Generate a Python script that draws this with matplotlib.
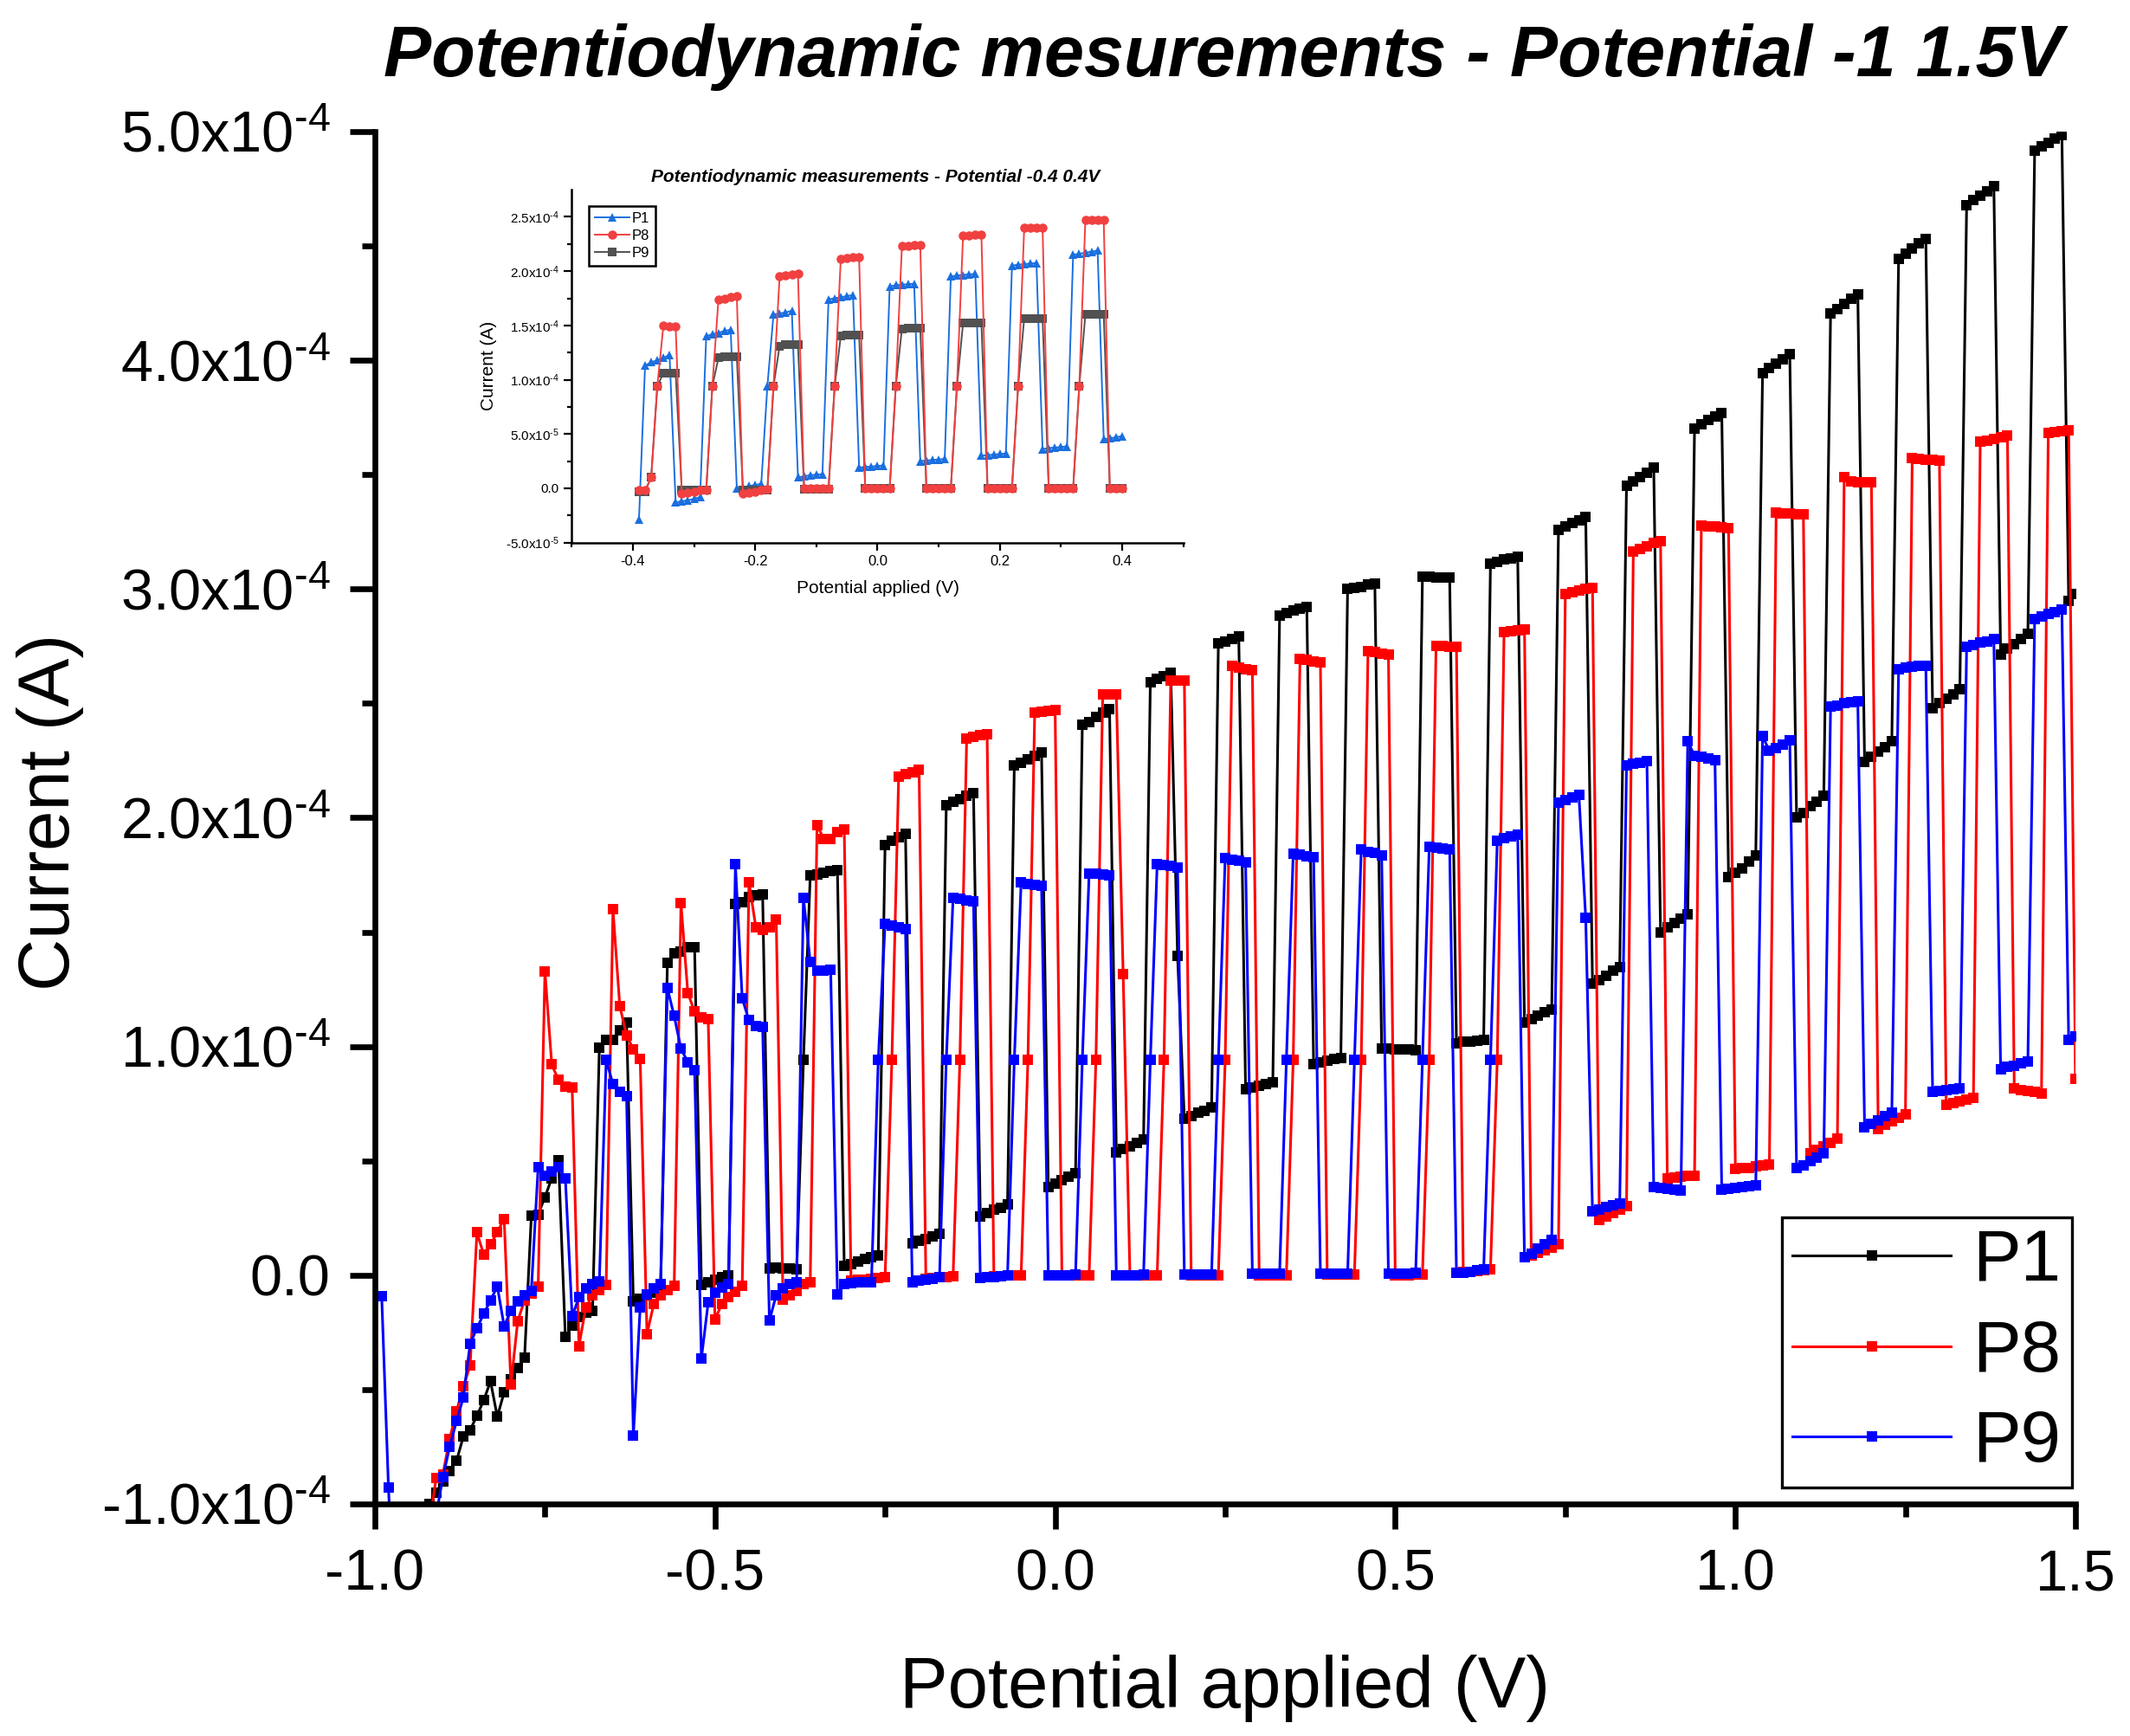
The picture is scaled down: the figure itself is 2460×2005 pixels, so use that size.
import numpy as np
import matplotlib
matplotlib.use("Agg")
import matplotlib.pyplot as plt

nan = np.nan

plt.rcParams["font.family"] = ["Liberation Sans", "DejaVu Sans"]
plt.rcParams["mathtext.fontset"] = "custom"
plt.rcParams["mathtext.rm"] = "Liberation Sans"
plt.rcParams["mathtext.default"] = "regular"
plt.rcParams["axes.unicode_minus"] = False


# ------------------------------------------------------------------
# Data - main sweep, -1.00 V .. 1.50 V in 0.01 V steps
# currents are in units of 1e-4 A, one row per 0.1 V
# ------------------------------------------------------------------

V_START, V_STEP, N_POINTS = -1.00, 0.01, 251

p1_current = [
    nan, nan, nan, nan, nan, nan, nan, -1.10, -1.00, -0.95,
    -0.90, -0.856, -0.812, -0.706, -0.677, -0.615, -0.547, -0.464, -0.619, -0.512,
    -0.455, -0.406, -0.362, 0.260, 0.266, 0.341, 0.424, 0.502, -0.271, -0.22,
    -0.184, -0.164, -0.155, 0.994, 1.027, 1.029, 1.071, 1.106, -0.116, -0.103,
    -0.087, -0.078, -0.068, 1.365, 1.407, 1.415, 1.434, 1.434, -0.043, -0.033,
    -0.02, -0.01, 0.0, 1.622, 1.631, 1.655, 1.66, 1.666, 0.03, 0.035,
    0.03, 0.028, 0.025, 0.94, 1.747, 1.751, 1.761, 1.767, 1.77, 0.04,
    0.05, 0.06, 0.07, 0.08, 0.085, 1.88, 1.90, 1.915, 1.93, 0.14,
    0.15, 0.16, 0.17, 0.18, 2.054, 2.07, 2.08, 2.095, 2.109, 0.258,
    0.27, 0.285, 0.295, 0.308, 2.228, 2.24, 2.255, 2.27, 2.287, 0.387,
    0.40, 0.415, 0.43, 0.447, 2.406, 2.42, 2.44, 2.46, 2.475, 0.536,
    0.55, 0.565, 0.58, 0.595, 2.594, 2.607, 2.62, 2.634, 1.397, 0.684,
    0.695, 0.71, 0.72, 0.733, 2.762, 2.772, 2.782, 2.792, 0.812, 0.82,
    0.827, 0.835, 0.842, 2.885, 2.895, 2.905, 2.913, 2.921, 0.922, 0.93,
    0.937, 0.944, 0.951, 3.00, 3.005, 3.01, 3.02, 3.025, 0.99, 0.99,
    0.988, 0.987, 0.986, 0.985, 3.055, 3.055, 3.052, 3.05, 3.05, 1.015,
    1.02, 1.02, 1.025, 1.03, 3.11, 3.12, 3.13, 3.135, 3.14, 1.104,
    1.12, 1.135, 1.15, 1.16, 3.26, 3.275, 3.29, 3.30, 3.315, 1.276,
    1.29, 1.31, 1.33, 1.346, 3.453, 3.47, 3.49, 3.51, 3.532, 1.498,
    1.52, 1.54, 1.56, 1.577, 3.70, 3.72, 3.74, 3.755, 3.77, 1.74,
    1.76, 1.78, 1.81, 1.836, 3.944, 3.965, 3.985, 4.005, 4.028, 2.0,
    2.02, 2.05, 2.07, 2.096, 4.204, 4.225, 4.245, 4.27, 4.289, 2.243,
    2.265, 2.29, 2.31, 2.334, 4.442, 4.465, 4.49, 4.51, 4.53, 2.477,
    2.50, 2.52, 2.54, 2.562, 4.677, 4.70, 4.72, 4.74, 4.762, 2.715,
    2.74, 2.76, 2.78, 2.803, 4.915, 4.935, 4.95, 4.97, 4.986, 2.95,
    2.98,
]

p8_current = [
    nan, nan, nan, nan, nan, nan, nan, nan, -1.10, -0.885,
    -0.87, -0.715, -0.595, -0.487, -0.396, 0.187, 0.09, 0.135, 0.187, 0.247,
    -0.479, -0.20, -0.11, -0.08, -0.05, 1.329, 0.921, 0.853, 0.826, 0.82,
    -0.31, -0.141, -0.088, -0.064, -0.043, 1.599, 1.178, 1.048, 0.988, 0.946,
    -0.257, -0.126, -0.088, -0.064, -0.045, 1.626, 1.235, 1.152, 1.129, 1.12,
    -0.194, -0.126, -0.097, -0.072, -0.045, 1.718, 1.521, 1.51, 1.521, 1.554,
    -0.107, -0.088, -0.068, -0.04, -0.03, 1.969, 1.906, 1.906, 1.937, 1.95,
    -0.025, -0.02, -0.02, -0.015, -0.012, -0.01, 0.94, 2.18, 2.19, 2.20,
    2.21, -0.015, -0.012, -0.01, -0.008, -0.006, 0.94, 2.347, 2.353, 2.36,
    2.367, -0.004, -0.003, -0.002, -0.001, 0.0, 0.94, 2.46, 2.463, 2.467,
    2.47, 0.0, 0.0, 0.0, 0.0, 0.0, 0.94, 2.54, 2.54, 2.54,
    1.317, 0.0, 0.0, 0.0, 0.0, 0.0, 0.94, 2.598, 2.598, 2.598,
    0.0, 0.0, 0.0, 0.0, 0.0, 0.94, 2.664, 2.657, 2.65, 2.644,
    0.0, 0.0, 0.001, 0.001, 0.001, 0.94, 2.693, 2.689, 2.685, 2.68,
    0.002, 0.002, 0.002, 0.002, 0.002, 0.94, 2.729, 2.723, 2.718, 2.712,
    0.0, 0.0, 0.001, 0.002, 0.003, 0.94, 2.753, 2.751, 2.748, 2.746,
    0.013, 0.016, 0.019, 0.022, 0.025, 0.94, 2.813, 2.817, 2.821, 2.825,
    0.086, 0.098, 0.11, 0.122, 0.134, 2.977, 2.985, 2.992, 3.0, 3.006,
    0.243, 0.258, 0.273, 0.288, 0.303, 3.163, 3.175, 3.187, 3.2, 3.211,
    0.424, 0.427, 0.43, 0.433, 0.436, 3.276, 3.274, 3.272, 3.27, 3.267,
    0.465, 0.467, 0.47, 0.475, 0.48, 0.483, 3.334, 3.332, 3.33, 3.327,
    3.325, 0.532, 0.548, 0.565, 0.58, 0.597, 3.488, 3.47, 3.468, 3.466,
    3.465, 0.64, 0.656, 0.672, 0.689, 0.705, 3.572, 3.57, 3.567, 3.565,
    3.562, 0.744, 0.752, 0.76, 0.768, 0.777, 3.644, 3.65, 3.657, 3.663,
    3.67, 0.816, 0.81, 0.805, 0.80, 0.793, 3.683, 3.687, 3.69, 3.693,
    0.86,
]

p9_current = [
    nan, -0.09, -0.93, -1.60, nan, nan, nan, nan, nan, -1.05,
    -0.883, -0.75, -0.638, -0.535, -0.30, -0.232, -0.169, -0.11, -0.049, -0.223,
    -0.155, -0.116, -0.087, -0.068, 0.473, 0.434, 0.453, 0.473, 0.424, -0.18,
    -0.097, -0.059, -0.04, -0.026, 0.94, 0.836, 0.80, 0.782, -0.702, -0.141,
    -0.083, -0.058, -0.04, 1.255, 1.133, 0.99, 0.932, 0.897, -0.364, -0.12,
    -0.078, -0.052, -0.04, 1.796, 1.21, 1.114, 1.09, 1.085, -0.198, -0.087,
    -0.058, -0.04, -0.03, 1.65, 1.37, 1.332, 1.332, 1.336, -0.083, -0.04,
    -0.035, -0.032, -0.03, -0.03, 0.94, 1.535, 1.53, 1.52, 1.515, -0.03,
    -0.025, -0.02, -0.015, -0.01, 0.94, 1.65, 1.645, 1.64, 1.634, -0.012,
    -0.01, -0.007, -0.004, -0.002, 0.94, 1.717, 1.712, 1.708, 1.703, 0.0,
    0.0, 0.001, 0.001, 0.002, 0.94, 1.757, 1.755, 1.752, 1.749, 0.001,
    0.001, 0.001, 0.001, 0.002, 0.94, 1.797, 1.792, 1.788, 1.783, 0.002,
    0.002, 0.003, 0.003, 0.004, 0.94, 1.822, 1.817, 1.811, 1.806, 0.005,
    0.005, 0.006, 0.006, 0.006, 0.94, 1.842, 1.838, 1.833, 1.828, 0.007,
    0.007, 0.007, 0.007, 0.007, 0.94, 1.86, 1.852, 1.845, 1.835, 0.005,
    0.006, 0.007, 0.008, 0.01, 0.94, 1.872, 1.868, 1.864, 1.86, 0.01,
    0.012, 0.016, 0.02, 0.025, 0.94, 1.90, 1.91, 1.918, 1.925, 0.078,
    0.095, 0.115, 0.135, 0.153, 2.065, 2.077, 2.09, 2.10, 1.563, 0.279,
    0.288, 0.297, 0.306, 0.315, 2.229, 2.235, 2.24, 2.246, 0.387, 0.382,
    0.378, 0.374, 0.37, 2.335, 2.27, 2.265, 2.26, 2.253, 0.375, 0.378,
    0.382, 0.387, 0.39, 0.392, 2.357, 2.292, 2.305, 2.32, 2.34, 0.467,
    0.48, 0.50, 0.515, 0.532, 2.487, 2.49, 2.50, 2.505, 2.51, 0.646,
    0.66, 0.675, 0.695, 0.711, 2.65, 2.655, 2.66, 2.663, 2.666, 0.803,
    0.806, 0.81, 0.813, 0.816, 2.748, 2.755, 2.765, 2.772, 2.78, 0.90,
    0.91, 0.917, 0.925, 0.933, 2.868, 2.88, 2.89, 2.90, 2.911, 1.03,
    1.044,
]

# ------------------------------------------------------------------
# Data - inset sweep, -0.39 V .. 0.40 V in 0.01 V steps (1e-4 A)
# ------------------------------------------------------------------

INSET_START, INSET_POINTS = -0.39, 80

inset_p1 = [
    -0.29, 1.13, 1.16, 1.18, 1.20, 1.23, -0.13, -0.12, -0.11, -0.10,
    -0.08, 1.40, 1.42, 1.43, 1.45, 1.46, 0.0, 0.01, 0.02, 0.03,
    0.04, 0.94, 1.60, 1.61, 1.62, 1.635, 0.10, 0.11, 0.12, 0.125,
    0.13, 1.74, 1.75, 1.76, 1.77, 1.78, 0.19, 0.195, 0.20, 0.205,
    0.21, 1.86, 1.87, 1.875, 1.88, 1.885, 0.25, 0.255, 0.26, 0.265,
    0.27, 1.95, 1.96, 1.965, 1.97, 1.975, 0.30, 0.305, 0.31, 0.315,
    0.32, 2.05, 2.06, 2.065, 2.07, 2.075, 0.36, 0.37, 0.375, 0.38,
    0.385, 2.15, 2.16, 2.17, 2.18, 2.19, 0.45, 0.46, 0.47, 0.48,
]

inset_p8 = [
    -0.02, -0.02, 0.10, 0.94, 1.50, 1.49, 1.49, -0.05, -0.04, -0.03,
    -0.02, -0.02, 0.94, 1.74, 1.75, 1.76, 1.77, -0.05, -0.04, -0.03,
    -0.02, -0.01, 0.94, 1.95, 1.96, 1.97, 1.98, 0.0, 0.0, 0.0,
    0.0, 0.0, 0.94, 2.11, 2.12, 2.125, 2.13, 0.0, 0.0, 0.0,
    0.0, 0.0, 0.94, 2.23, 2.235, 2.237, 2.24, 0.0, 0.0, 0.0,
    0.0, 0.0, 0.94, 2.33, 2.332, 2.333, 2.335, 0.0, 0.0, 0.0,
    0.0, 0.0, 0.94, 2.40, 2.40, 2.40, 2.40, 0.0, 0.0, 0.0,
    0.0, 0.0, 0.94, 2.47, 2.47, 2.47, 2.47, 0.0, 0.0, 0.0,
]

inset_p9 = [
    -0.03, -0.03, 0.10, 0.94, 1.06, 1.06, 1.06, -0.02, -0.02, -0.02,
    -0.02, -0.02, 0.94, 1.20, 1.21, 1.21, 1.21, -0.02, -0.02, -0.02,
    -0.02, -0.02, 0.94, 1.31, 1.32, 1.32, 1.32, -0.01, -0.01, -0.01,
    -0.01, -0.01, 0.94, 1.40, 1.41, 1.41, 1.41, 0.0, 0.0, 0.0,
    0.0, 0.0, 0.94, 1.47, 1.475, 1.475, 1.475, 0.0, 0.0, 0.0,
    0.0, 0.0, 0.94, 1.52, 1.52, 1.52, 1.52, 0.0, 0.0, 0.0,
    0.0, 0.0, 0.94, 1.565, 1.566, 1.566, 1.566, 0.0, 0.0, 0.0,
    0.0, 0.0, 0.94, 1.60, 1.60, 1.60, 1.60, 0.0, 0.0, 0.0,
]

# tick labels (exponent uses a real hyphen, as in the original)
main_yticks = [-1e-4, 0.0, 1e-4, 2e-4, 3e-4, 4e-4, 5e-4]
main_yticklabels = ["-1.0x10$^{\u20104}$", "0.0", "1.0x10$^{\u20104}$",
                    "2.0x10$^{\u20104}$", "3.0x10$^{\u20104}$",
                    "4.0x10$^{\u20104}$", "5.0x10$^{\u20104}$"]
main_xticks = [-1.0, -0.5, 0.0, 0.5, 1.0, 1.5]
main_xticklabels = ["-1.0", "-0.5", "0.0", "0.5", "1.0", "1.5"]

inset_yticks = [-5e-5, 0.0, 5e-5, 1e-4, 1.5e-4, 2e-4, 2.5e-4]
inset_yticklabels = ["-5.0x10$^{\u20105}$", "0.0", "5.0x10$^{\u20105}$",
                     "1.0x10$^{\u20104}$", "1.5x10$^{\u20104}$",
                     "2.0x10$^{\u20104}$", "2.5x10$^{\u20104}$"]
inset_xticks = [-0.4, -0.2, 0.0, 0.2, 0.4]
inset_xticklabels = ["-0.4", "-0.2", "0.0", "0.2", "0.4"]

assert len(p1_current) == len(p8_current) == len(p9_current) == N_POINTS
assert len(inset_p1) == len(inset_p8) == len(inset_p9) == INSET_POINTS

potential = np.round(V_START + V_STEP * np.arange(N_POINTS), 2)
inset_potential = np.round(INSET_START + V_STEP * np.arange(INSET_POINTS), 2)


# ------------------------------------------------------------------
# Main plot
# ------------------------------------------------------------------

fig = plt.figure(figsize=(12.3, 10.025), dpi=200)
ax = fig.add_axes([0.1760, 0.1337, 0.7984, 0.7905])

series = [
    ("P1", p1_current, "#000000"),
    ("P8", p8_current, "#FF0000"),
    ("P9", p9_current, "#0000FF"),
]
for name, values, color in series:
    ax.plot(potential, np.array(values) * 1e-4, color=color, lw=1.1,
            marker="s", markersize=4.2, markeredgewidth=0, label=name)

ax.set_xlim(-1.0, 1.5)
ax.set_ylim(-1e-4, 5e-4)
ax.set_xticks(main_xticks, labels=main_xticklabels)
ax.set_xticks([-0.75, -0.25, 0.25, 0.75, 1.25], minor=True)
ax.set_yticks(main_yticks, labels=main_yticklabels)
ax.set_yticks([-0.5e-4, 0.5e-4, 1.5e-4, 2.5e-4, 3.5e-4, 4.5e-4], minor=True)

for side in ("top", "right"):
    ax.spines[side].set_visible(False)
for side in ("left", "bottom"):
    ax.spines[side].set_linewidth(2.4)

ax.tick_params(which="major", direction="out", length=10.5, width=2.4,
               labelsize=24, pad=8)
ax.tick_params(which="minor", direction="out", length=5.5, width=2.4)

leg = ax.legend(loc="lower right", bbox_to_anchor=(0.998, 0.012),
                fontsize=30, frameon=True, fancybox=False, framealpha=1,
                edgecolor="black", numpoints=1, handlelength=2.2,
                handletextpad=0.3, labelspacing=0.32, borderpad=0.15,
                borderaxespad=0)
leg.get_frame().set_linewidth(1.2)

fig.text(0.5744, 0.9561, "Potentiodynamic mesurements - Potential -1 1.5V",
         fontsize=29.8, fontweight="bold", fontstyle="italic",
         ha="center", va="baseline")
fig.text(0.5752, 0.0165, "Potential applied (V)", fontsize=30,
         ha="center", va="baseline")
fig.text(0.0236, 0.532, "Current (A)", fontsize=30, rotation=90,
         ha="center", va="center")


# ------------------------------------------------------------------
# Inset
# ------------------------------------------------------------------

ins = fig.add_axes([0.2684, 0.6875, 0.2871, 0.2032])

inset_series = [
    ("P1", inset_p1, "#1A6FDF", "^", 3.8, 3),
    ("P9", inset_p9, "#515151", "s", 3.6, 4),
    ("P8", inset_p8, "#F14040", "o", 3.8, 5),
]
handles = {}
for name, values, color, marker, size, z in inset_series:
    line, = ins.plot(inset_potential, np.array(values) * 1e-4, color=color,
                     lw=0.7, marker=marker, markersize=size,
                     markeredgewidth=0, zorder=z, label=name)
    handles[name] = line

ins.set_xlim(-0.5, 0.5)
ins.set_ylim(-0.5e-4, 2.75e-4)
ins.set_xticks(inset_xticks, labels=inset_xticklabels)
ins.set_xticks([-0.5, -0.3, -0.1, 0.1, 0.3, 0.5], minor=True)
ins.set_yticks(inset_yticks, labels=inset_yticklabels)
ins.set_yticks([-2.5e-5, 2.5e-5, 7.5e-5, 1.25e-4, 1.75e-4, 2.25e-4], minor=True)

for side in ("top", "right"):
    ins.spines[side].set_visible(False)
for side in ("left", "bottom"):
    ins.spines[side].set_linewidth(0.9)

ins.tick_params(which="major", direction="out", length=3.2, width=0.8,
                labelsize=5.5, pad=2)
ins.tick_params(which="minor", direction="out", length=1.8, width=0.8)
ins.tick_params(axis="x", labelsize=6)

ileg = ins.legend([handles["P1"], handles["P8"], handles["P9"]],
                  ["P1", "P8", "P9"], loc="upper left",
                  bbox_to_anchor=(0.028, 0.953), fontsize=6, frameon=True,
                  fancybox=False, framealpha=1, edgecolor="black",
                  numpoints=1, handlelength=2.4, handletextpad=0.2,
                  labelspacing=0.3, borderpad=0.4, borderaxespad=0)
ileg.get_frame().set_linewidth(0.9)

fig.text(0.411, 0.8953, "Potentiodynamic measurements - Potential -0.4 0.4V",
         fontsize=7.5, fontweight="bold", fontstyle="italic",
         ha="center", va="baseline")
fig.text(0.4122, 0.6613, "Potential applied (V)", fontsize=7.5,
         ha="center", va="center")
fig.text(0.2293, 0.7895, "Current (A)", fontsize=7.5, rotation=90,
         ha="center", va="center")

fig.savefig("out.png", dpi=200)
plt.close()
